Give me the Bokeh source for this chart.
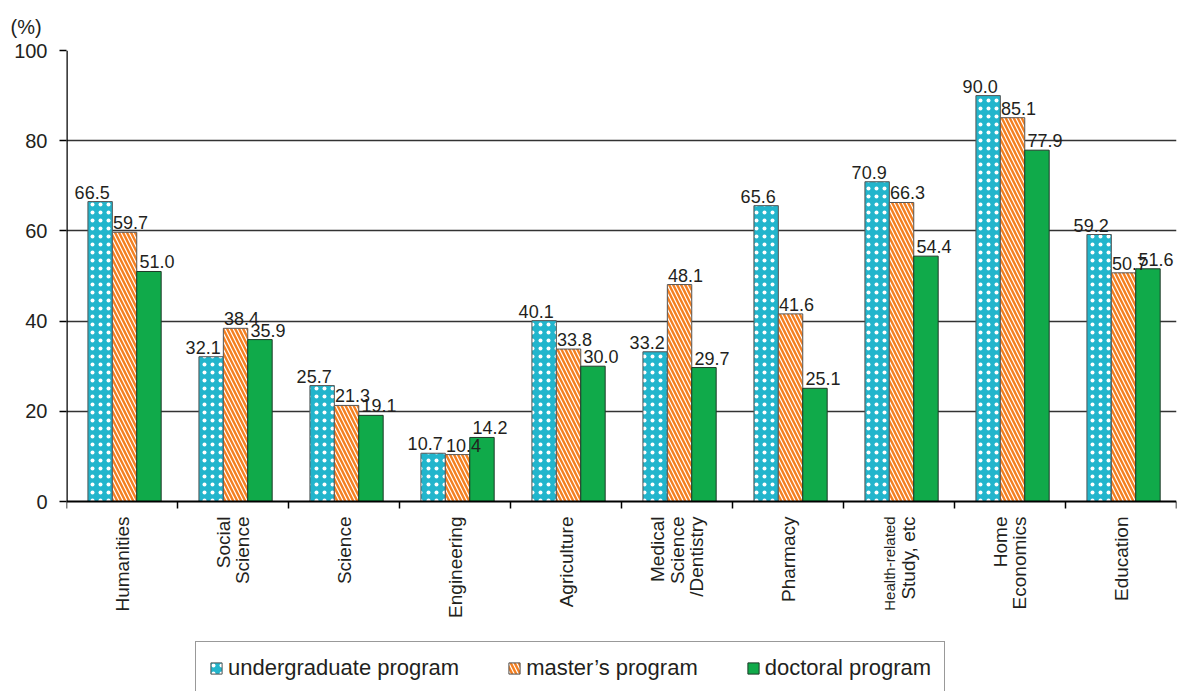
import math
from bokeh.plotting import figure
from bokeh.models import (ColumnDataSource, Range1d, FixedTicker, Legend, LegendItem, Span)
from bokeh.core.properties import value
from bokeh.embed import file_html
from bokeh.resources import INLINE

categories = ["Humanities", "Social\nScience", "Science", "Engineering", "Agriculture",
              "Medical\nScience\n/Dentistry", "Pharmacy", "Health-related\nStudy, etc",
              "Home\nEconomics", "Education"]
undergraduate = [66.5, 32.1, 25.7, 10.7, 40.1, 33.2, 65.6, 70.9, 90.0, 59.2]
master = [59.7, 38.4, 21.3, 10.4, 33.8, 48.1, 41.6, 66.3, 85.1, 50.7]
doctoral = [51.0, 35.9, 19.1, 14.2, 30.0, 29.7, 25.1, 54.4, 77.9, 51.6]
series_names = ["undergraduate program", "master\u2019s program", "doctoral program"]
y_ticks = [0, 20, 40, 60, 80, 100]

FONT = "Liberation Sans"
TXT = "#231f20"

# layout: the frame extends below zero so that category labels and legend can be drawn inside it
PLOT_H = 451          # pixels for 0..100
FRAME_H = 641
y_lo = -y_ticks[-1] * (FRAME_H - PLOT_H) / PLOT_H

p = figure(frame_width=1110, frame_height=FRAME_H, output_backend="svg", toolbar_location=None,
           x_range=Range1d(-0.5, len(categories) - 0.5), y_range=Range1d(y_lo, y_ticks[-1]),
           min_border_left=66, min_border_right=13, min_border_top=50, min_border_bottom=0,
           title="(%)")
p.outline_line_color = None
p.background_fill_color = "white"
p.border_fill_color = "white"

p.title.text_font = FONT
p.title.text_font_size = "20px"
p.title.text_font_style = "normal"
p.title.text_color = TXT
p.title.align = "left"
p.title.offset = -56
p.title.standoff = 26

idx = list(range(len(categories)))
offsets = [-0.197, 0.023, 0.243]
bw = 0.22

styles = [
    dict(fill_color="#22b5cc", hatch_pattern="dot", hatch_color="white", hatch_scale=8, hatch_weight=2.4,
         line_color="#555555"),
    dict(fill_color="white", hatch_pattern="left_diagonal_line", hatch_color="#f47f20", hatch_scale=8,
         hatch_weight=2.4, line_color="#555555"),
    dict(fill_color="#10aa4a", line_color="#1e3a28"),
]
label_dx = [-8, 6, 8]

renderers = []
sources = []
for k, vals in enumerate([undergraduate, master, doctoral]):
    src = ColumnDataSource(dict(x=[i + offsets[k] for i in idx], top=vals,
                                lab=["%.1f" % v for v in vals]))
    sources.append(src)
    r = p.vbar(x="x", top="top", bottom=0, width=bw, source=src, line_width=1, **styles[k])
    renderers.append(r)
for k, src in enumerate(sources):
    p.text(x="x", y="top", text="lab", source=src, text_font=value(FONT), text_font_size="18px",
           text_color=TXT, text_align="center", text_baseline="bottom", x_offset=label_dx[k], y_offset=-3)

# category labels (rotated, one glyph per line)
lx, ltxt, ldx, lsize = [], [], [], []
for i, c in zip(idx, categories):
    lines = c.split("\n")
    n = len(lines)
    for j, line in enumerate(lines):
        lx.append(i)
        ltxt.append(line)
        ldx.append((j - (n - 1) / 2) * 19.5)
        lsize.append("15px" if len(line) > 12 else "19px")
lab_src = ColumnDataSource(dict(x=lx, y=[0] * len(lx), t=ltxt, dx=ldx, fs=lsize))
p.text(x="x", y="y", text="t", source=lab_src, x_offset="dx", y_offset=15, angle=math.pi / 2,
       text_font=value(FONT), text_font_size="fs", text_color=TXT, text_align="right",
       text_baseline="middle")

# x axis line and boundary ticks at y=0
p.add_layout(Span(location=0, dimension="width", line_color="black", line_width=2))
bounds = [i - 0.5 for i in range(len(categories) + 1)]
p.ray(x=bounds, y=[0] * len(bounds), length=7, length_units="screen", angle=-math.pi / 2,
      line_color="black", line_width=1.5)
# y axis line from 0 to 100
p.segment(x0=[-0.5], y0=[y_ticks[0]], x1=[-0.5], y1=[y_ticks[-1]], line_color="black", line_width=2.5)

p.xaxis.visible = False

ya = p.yaxis[0]
ya.ticker = FixedTicker(ticks=y_ticks, minor_ticks=[])
ya.major_tick_in = 0
ya.major_tick_out = 7
ya.major_tick_line_width = 1.5
ya.major_tick_line_color = "black"
ya.axis_line_color = None
ya.major_label_text_font = FONT
ya.major_label_text_font_size = "20px"
ya.major_label_text_color = TXT
ya.major_label_standoff = 12

p.xgrid.visible = False
p.ygrid.ticker = FixedTicker(ticks=y_ticks[1:])
p.ygrid.grid_line_color = "#333333"
p.ygrid.grid_line_width = 1.6

legend = Legend(items=[LegendItem(label=n, renderers=[r]) for n, r in zip(series_names, renderers)],
                orientation="horizontal", location=(129, -4))
legend.label_text_font = FONT
legend.label_text_font_size = "22px"
legend.label_text_color = TXT
legend.label_height = 22
legend.glyph_width = 14
legend.glyph_height = 14
legend.label_standoff = 5
legend.spacing = 48
legend.padding = 13
legend.margin = 0
legend.border_line_color = "#333333"
legend.border_line_width = 1.5
legend.background_fill_alpha = 1
p.add_layout(legend, "center")

open("out.html", "w").write(file_html(p, INLINE))
